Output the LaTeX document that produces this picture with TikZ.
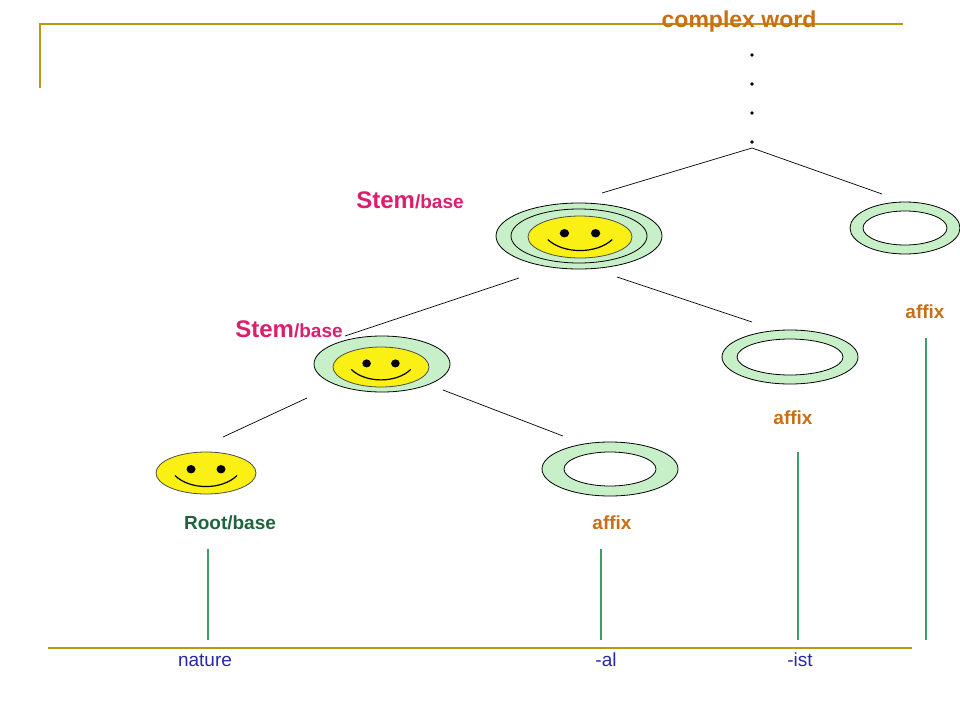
\documentclass[tikz,border=0pt]{standalone}
\usepackage{fontspec}
\setmainfont{Liberation Sans}
\usetikzlibrary{shapes.geometric}
\definecolor{gold}{RGB}{190,150,20}
\definecolor{wordc}{RGB}{200,110,20}
\definecolor{pinkc}{RGB}{220,30,110}
\definecolor{darkg}{RGB}{30,100,60}
\definecolor{lineg}{RGB}{60,160,100}
\definecolor{ringg}{RGB}{200,240,200}
\definecolor{ylw}{RGB}{250,240,20}
\definecolor{navy}{RGB}{40,40,170}
\begin{document}
\begin{tikzpicture}[x=1pt,y=-1pt,
  ring/.style={ellipse,draw=black,fill=ringg,line width=0.8pt,inner sep=0pt},
  hole/.style={ellipse,draw=black,fill=white,line width=0.8pt,inner sep=0pt},
  face/.style={ellipse,draw=black!70,fill=ylw,line width=0.8pt,inner sep=0pt},
  branch/.style={line width=0.7pt},
  stem/.style={lineg,line width=2.6pt},
  affixlbl/.style={text=wordc,font=\bfseries\fontsize{19}{22}\selectfont},
  stemlbl/.style={text=pinkc},
  bottomlbl/.style={text=navy,font=\fontsize{19}{22}\selectfont}]
\useasboundingbox (0,0) rectangle (960,720);
\newcommand{\smileat}[3]{% center, rx, ry
  \fill (#1) ++(-0.3*#2,-0.18*#3) ellipse ({0.09*#2} and {0.2*#3});
  \fill (#1) ++(0.3*#2,-0.18*#3) ellipse ({0.09*#2} and {0.2*#3});
  \draw[line width=1.2pt] (#1) ++(-0.62*#2,0.12*#3) .. controls +(0.3*#2,0.7*#3) and +(-0.3*#2,0.7*#3) .. ++(1.24*#2,0);}
% frame lines
\draw[gold,line width=1.2pt] (40,88) -- (40,24) -- (903,24);
\draw[gold,line width=1.2pt] (48,648) -- (912,648);
\node[text=wordc,font=\bfseries\fontsize{23}{26}\selectfont] (cw) at (739,22) {complex word};
\foreach \y in {55,84,113,142} \fill (752,\y) circle (1.8);
\coordinate (top) at (752,148);
% top level
\node[ring,minimum width=166,minimum height=66] (s1) at (579,236) {};
\node[ellipse,draw=black,line width=0.8pt,minimum width=136,minimum height=54] (s1in) at (579,236) {};
\node[face,minimum width=104,minimum height=42] (f1) at (580,237) {};
\smileat{f1.center}{52}{21}
\node[ring,minimum width=110,minimum height=52] (a3) at (905,228) {};
\node[hole,minimum width=84,minimum height=34] (a3in) at (905,228) {};
\node[stemlbl,anchor=base] (l1) at (410,208) {\bfseries\fontsize{24}{26}\selectfont Stem\fontsize{19}{21}\selectfont/base};
\draw[branch] (top) -- (602,193);
\draw[branch] (top) -- (882,194);
% level 2
\node[ring,minimum width=136,minimum height=56] (s2) at (382,364) {};
\node[face,minimum width=96,minimum height=40] (f2) at (381,367) {};
\smileat{f2.center}{48}{20}
\node[ring,minimum width=136,minimum height=54] (a2) at (790,357) {};
\node[hole,minimum width=106,minimum height=36] (a2in) at (790,357) {};
\node[stemlbl,anchor=base] (l2) at (289,337) {\bfseries\fontsize{24}{26}\selectfont Stem\fontsize{19}{21}\selectfont/base};
\draw[branch] (519,278) -- (345,336);
\draw[branch] (617,277) -- (752,322);
% level 3
\node[face,minimum width=100,minimum height=42] (root) at (206,473) {};
\smileat{root.center}{50}{21}
\node[ring,minimum width=136,minimum height=54] (a1) at (610,469) {};
\node[hole,minimum width=92,minimum height=34] (a1in) at (610,469) {};
\draw[branch] (307,398) -- (223,437);
\draw[branch] (443,390) -- (563,436);
% labels
\node[text=darkg,font=\bfseries\fontsize{19}{22}\selectfont] (rl) at (230,523) {Root/base};
\node[affixlbl] (al1) at (612,523) {affix};
\node[affixlbl] (al2) at (793,418) {affix};
\node[affixlbl] (al3) at (925,312) {affix};
% vertical lines
\draw[stem] (208,549) -- (208,640);
\draw[stem] (601,549) -- (601,640);
\draw[stem] (798,452) -- (798,640);
\draw[stem] (926,338) -- (926,640);
\node[bottomlbl] (w1) at (205,660) {nature};
\node[bottomlbl] (w2) at (606,660) {-al};
\node[bottomlbl] (w3) at (800,660) {-ist};
\end{tikzpicture}
\end{document}
